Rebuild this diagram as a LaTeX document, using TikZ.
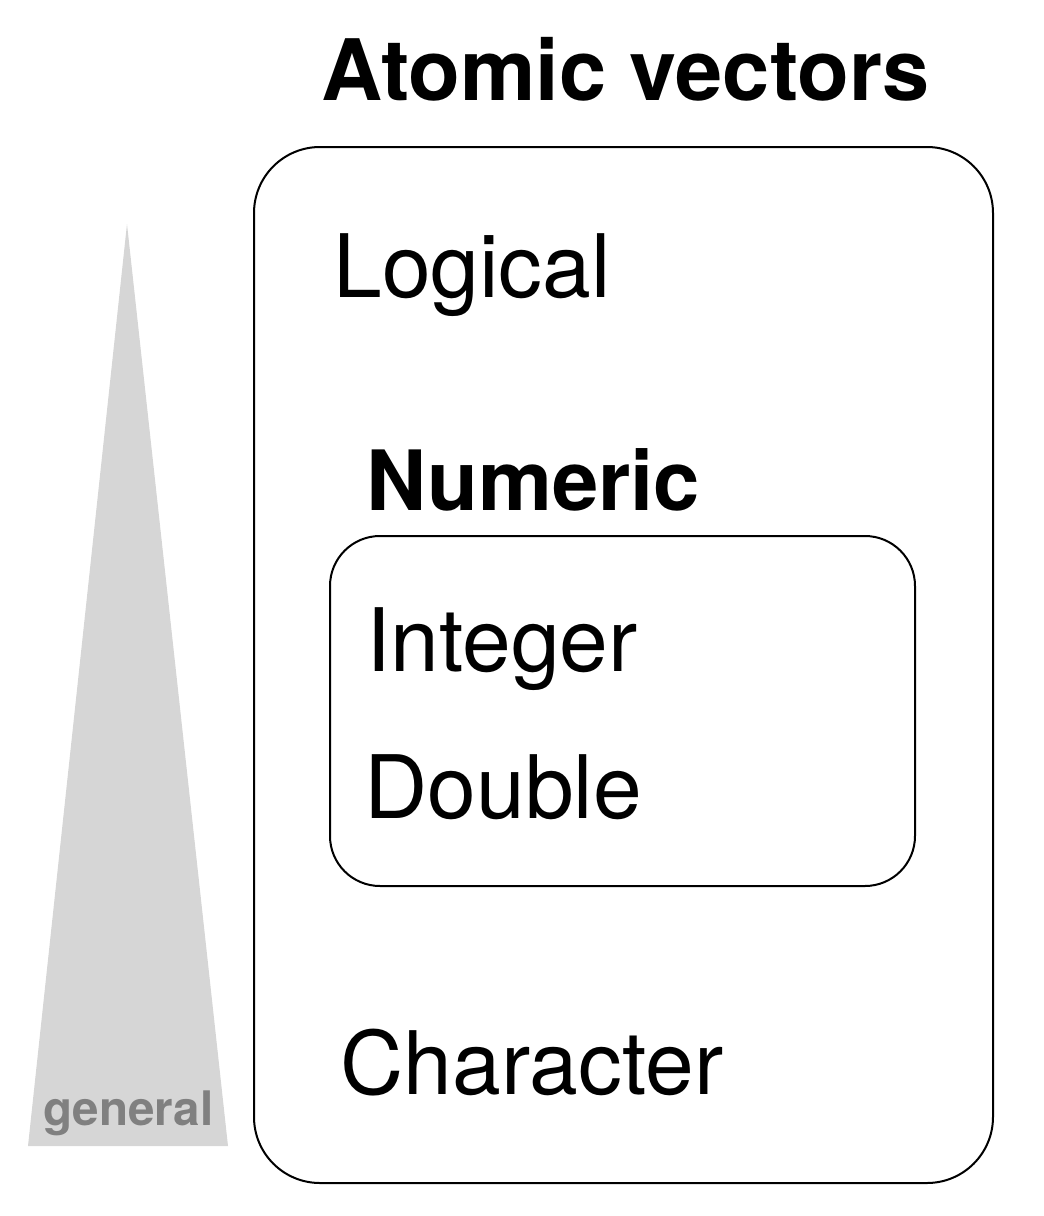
\documentclass[tikz,border=0pt]{standalone}
\usepackage{fontspec}
\setmainfont{TeX Gyre Heros}
\usepackage{xcolor}
\usepackage{tikz}
\usetikzlibrary{positioning}
\definecolor{conegray}{RGB}{214,214,214}
\definecolor{labelgray}{RGB}{128,128,128}

\begin{document}
\begin{tikzpicture}[x=0.5pt, y=-0.5pt,
		typename/.style={anchor=base west, inner sep=0pt, font=\fontsize{43.8}{44}\selectfont},
		groupname/.style={typename, font=\fontsize{41.6}{42}\selectfont\bfseries},
		typebox/.style={draw=black, line width=1pt, rounded corners=#1}]
		\useasboundingbox (0,0) rectangle (1044,1216);
		% cone from specific to general
		\fill[conegray] (127,224) -- (228,1146) -- (28,1146) -- cycle;
		\node[anchor=base west, inner sep=0pt, text=labelgray, font=\fontsize{23.8}{24}\selectfont\bfseries] (general) at (43,1125) {general};
		
		% boxes
		\pgfmathsetmacro{\outerl}{254}
		\pgfmathsetmacro{\outerr}{993}
		\draw[typebox=33pt] (\outerl,147) rectangle (\outerr,1183);
		\draw[typebox=25pt] (330,536) rectangle (915,886);
		
		\node[anchor=base west, inner sep=0pt, font=\fontsize{42.4}{42}\selectfont\bfseries] (title) at (321,100) {Atomic vectors};
		\node[typename] (logical) at (333,297) {Logical};
		\node[groupname] (numeric) at (366,510) {Numeric};
		\node[typename] (integer) at (366,671) {Integer};
		\node[typename] (double) at (364,818) {Double};
		\node[typename] (character) at (340,1094) {Character};
\end{tikzpicture}
\end{document}
